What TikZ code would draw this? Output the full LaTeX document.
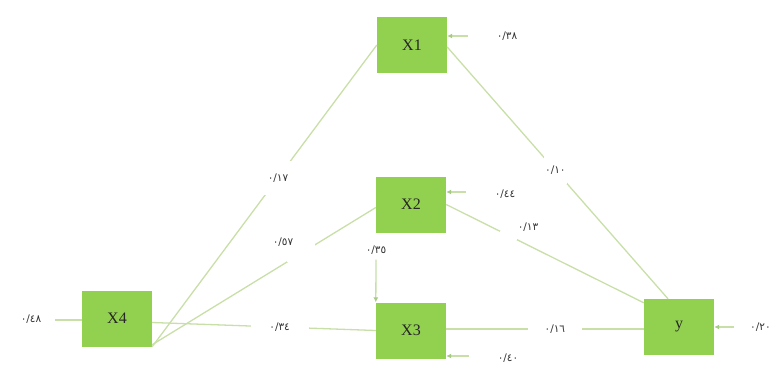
\documentclass[tikz,border=0pt]{standalone}
\usepackage{fontspec}
\setmainfont{Liberation Serif}
\newfontfamily\arabicfont[Script=Arabic]{DejaVu Sans}
\usetikzlibrary{arrows.meta}
\definecolor{boxgreen}{HTML}{92D050}
\definecolor{linegreen}{HTML}{C8DFA8}
\definecolor{tipgreen}{HTML}{A6CB82}
\begin{document}
\begin{tikzpicture}[x=1pt,y=-1pt,
  box/.style={fill=boxgreen, draw=none, minimum width=70pt, minimum height=56pt,
    inner sep=0pt, font=\fontsize{16}{18}\selectfont, text=black!85},
  lbl/.style={font=\arabicfont\fontsize{10.5}{12}\selectfont, text=black!80, inner sep=1pt},
  gaplbl/.style={lbl, fill=white},
  blank/.style={fill=white, inner sep=0pt},
  conn/.style={draw=linegreen, line width=1.3pt},
  arr/.style={conn, -{Latex[length=5pt,width=5pt,color=tipgreen]}}]
\useasboundingbox (0,0) rectangle (775,365);
% boxes
\node[box] (X1) at (412,45) {X1};
\node[box] (X2) at (411,204.5) {X2};
\node[box] (X3) at (411,330.5) {X3};
\node[box] (X4) at (117,318.5) {X4};
\node[box] (Y) at (679,327) {y};
% paths between boxes
\draw[conn] (X4.south east) -- node[gaplbl, pos=0.56, minimum width=30pt, minimum height=34pt] {٠/١٧} (X1.west);
\draw[conn] ([yshift=2pt]X4.south east) -- node[blank, pos=0.665, minimum width=28pt, minimum height=18pt] {} ([yshift=-3pt]X2.west);
\node[lbl] (l57) at (283,242) {٠/٥٧};
\draw[conn] ([yshift=-4pt]X4.east) -- node[gaplbl, pos=0.57, minimum width=58pt] {٠/٣٤} (X3.west);
\draw[conn] ([yshift=-2pt]X1.east) -- node[gaplbl, pos=0.49, minimum height=28pt] {٠/١٠} ([xshift=-11pt]Y.north);
\draw[conn] (X2.east) -- node[blank, pos=0.316, minimum width=17pt, minimum height=9pt] {} ([yshift=-4pt]Y.north west);
\node[lbl] (l13) at (528,227) {٠/١٣};
\draw[conn] ([yshift=-2pt]Y.west) -- node[gaplbl, pos=0.45, minimum width=54pt] {٠/١٦} ([yshift=1.5pt]X3.east);
\node[lbl, inner ysep=5pt] (l35) at (376,250) {٠/٣٥};
\draw[arr] (l35.south) -- (X3.north west);
% error terms
\node[lbl] (e1) at (507,36) {٠/٣٨};
\coordinate (e1s) at (468,36);
\draw[arr] (e1s) -- (X1.east |- e1s);
\node[lbl] (e2) at (505,194) {٠/٤٤};
\coordinate (e2s) at (466,192);
\draw[arr] (e2s) -- (X2.east |- e2s);
\node[lbl] (e3) at (508,358) {٠/٤٠};
\coordinate (e3s) at (469,356);
\draw[arr] (e3s) -- (X3.east |- e3s);
\node[lbl, anchor=west] (e4) at (749,327) {٠/٢٠};
\coordinate (e4s) at (734,327);
\draw[arr] (e4s) -- (Y.east |- e4s);
\node[lbl] (e5) at (31,319) {٠/٤٨};
\coordinate (e5s) at (55,320);
\draw[conn] (e5s) -- (X4.west |- e5s);
\end{tikzpicture}
\end{document}
